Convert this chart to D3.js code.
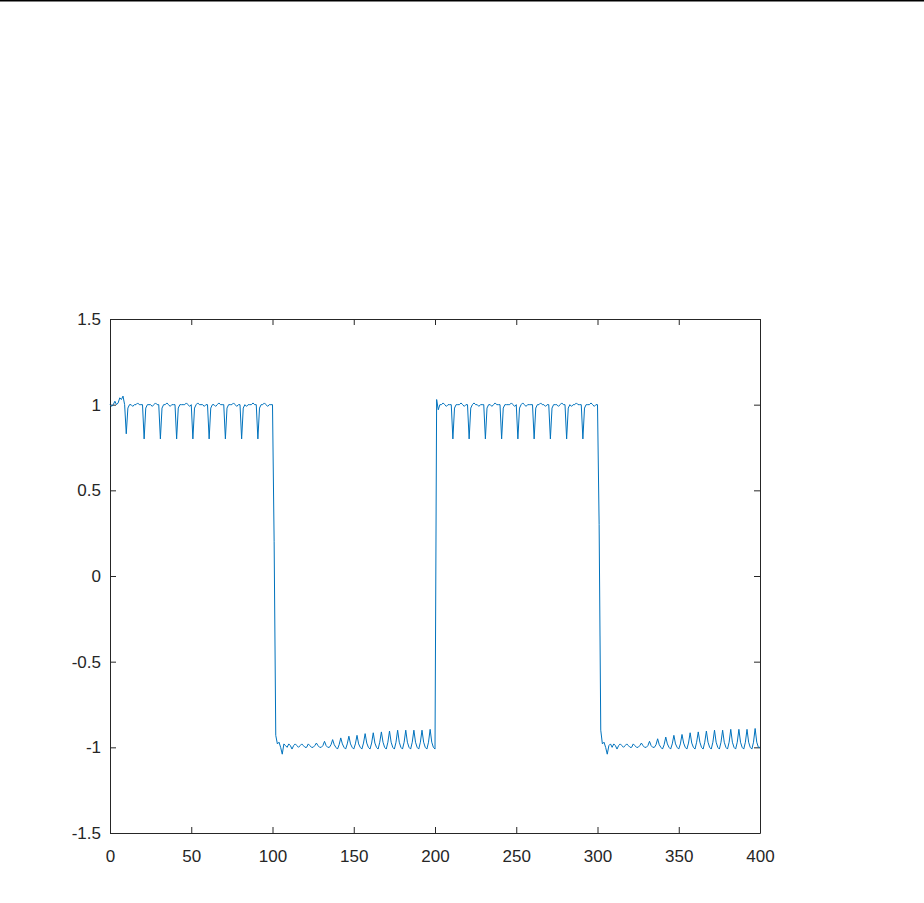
<!DOCTYPE html>
<html>
<head>
<meta charset="utf-8">
<script src="https://cdn.jsdelivr.net/npm/d3@7"></script>
<style>
  body { margin: 0; background: #fff; }
  svg { display: block; }
  .axis text { font-family: "Liberation Sans", Arial, sans-serif; font-size: 17px; fill: #262626; }
  .axis path, .axis line { stroke: #262626; }
</style>
</head>
<body>
<svg width="924" height="903"></svg>
<script>
// signal samples, one per unit step of x
// x = 0..100 (high, with dips every ~10 samples)
var seg1 = [1.00,0.99,1.00,1.02,1.00,1.01,1.04,1.03,1.05,1.00,
  0.83,0.98,1.00,1.00,0.99,1.00,1.00,1.01,1.00,1.00,
  1.00,0.80,0.98,1.00,1.00,1.00,0.99,1.00,1.01,1.00,
  1.00,0.80,0.98,1.00,1.00,1.01,1.00,0.99,1.00,1.00,
  1.00,0.80,0.98,1.00,1.00,1.00,1.00,1.01,1.00,0.99,
  1.00,0.80,0.98,1.00,1.01,1.00,1.00,1.00,0.99,1.00,
  1.00,0.80,0.98,1.00,1.00,0.99,1.00,1.01,1.00,1.00,
  1.00,0.80,0.98,1.00,1.00,1.00,1.01,1.00,0.99,1.00,
  1.00,0.80,0.98,1.00,0.99,1.00,1.00,1.00,1.01,1.00,
  1.00,0.80,0.98,1.00,1.00,1.01,1.00,0.99,1.00,1.00,
  1.00];
// x = 101..200 (low, growing ripple)
var seg2 = [0.20,-0.93,-0.98,-0.97,-1.00,-1.04,-0.98,-0.99,-1.00,-0.98,
  -0.99,-1.01,-0.99,-0.98,-0.99,-1.00,-0.99,-0.98,-0.99,-1.00,
  -1.00,-0.98,-0.99,-1.00,-1.00,-0.99,-0.975,-0.99,-1.00,-1.00,
  -0.99,-0.965,-0.99,-1.00,-1.00,-0.985,-0.955,-0.985,-1.00,-1.01,
  -0.985,-0.945,-0.98,-1.00,-1.01,-0.98,-0.935,-0.98,-1.00,-1.01,
  -0.98,-0.93,-0.98,-1.00,-1.01,-0.975,-0.92,-0.975,-1.00,-1.01,
  -0.975,-0.915,-0.975,-1.00,-1.01,-0.97,-0.91,-0.97,-1.00,-1.01,
  -0.97,-0.905,-0.97,-1.00,-1.01,-0.97,-0.90,-0.97,-1.00,-1.01,
  -0.97,-0.90,-0.97,-1.00,-1.01,-0.97,-0.90,-0.97,-1.00,-1.01,
  -0.97,-0.90,-0.97,-1.00,-1.01,-0.97,-0.895,-0.97,-1.00,-1.01];
// x = 201..300
var seg3 = [1.03,0.97,1.00,1.00,1.01,1.00,0.99,1.00,1.00,1.00,
  0.80,0.98,1.00,1.00,1.00,1.01,1.00,0.99,1.00,1.00,
  0.80,0.98,1.00,1.01,1.00,1.00,0.99,1.00,1.00,1.00,
  0.80,0.98,1.00,1.00,0.99,1.00,1.01,1.00,1.00,1.00,
  0.80,0.98,1.00,1.00,1.00,1.00,1.01,1.00,0.99,1.00,
  0.80,0.98,1.00,1.01,1.00,0.99,1.00,1.00,1.00,1.00,
  0.80,0.98,1.00,1.00,1.01,1.00,1.00,0.99,1.00,1.00,
  0.80,0.98,1.00,1.00,1.00,0.99,1.00,1.01,1.00,1.00,
  0.80,0.98,1.00,0.99,1.00,1.00,1.01,1.00,1.00,1.00,
  0.80,0.98,1.00,1.00,1.00,1.01,1.00,0.99,1.00,1.00];
// x = 301..400
var seg4 = [0.30,-0.90,-0.98,-0.97,-1.00,-1.04,-0.99,-0.98,-1.00,-0.98,
  -0.99,-1.01,-0.99,-0.98,-0.99,-1.00,-0.99,-0.98,-0.99,-1.00,
  -1.00,-0.98,-0.99,-1.00,-1.00,-0.99,-0.975,-0.99,-1.00,-1.00,
  -0.99,-0.965,-0.99,-1.00,-1.00,-0.985,-0.95,-0.985,-1.00,-1.01,
  -0.985,-0.94,-0.98,-1.00,-1.01,-0.98,-0.93,-0.98,-1.00,-1.01,
  -0.98,-0.925,-0.975,-1.00,-1.01,-0.975,-0.915,-0.975,-1.00,-1.01,
  -0.97,-0.91,-0.97,-1.00,-1.01,-0.97,-0.905,-0.97,-1.00,-1.01,
  -0.97,-0.90,-0.97,-1.00,-1.01,-0.97,-0.90,-0.97,-1.00,-1.01,
  -0.97,-0.895,-0.97,-1.00,-1.01,-0.97,-0.895,-0.97,-1.00,-1.01,
  -0.97,-0.895,-0.97,-1.00,-1.01,-0.97,-0.89,-0.97,-1.00,-1.00];

var xTicks = [0, 50, 100, 150, 200, 250, 300, 350, 400];
var yTicks = [-1.5, -1, -0.5, 0, 0.5, 1, 1.5];

var signal = seg1.concat(seg2, seg3, seg4);

var svg = d3.select("svg"),
    plotLeft = 110, plotRight = 760, plotTop = 319, plotBottom = 833;

// thin rule along the top edge of the figure window
svg.append("line")
    .attr("x1", 0).attr("x2", 924)
    .attr("y1", 0.75).attr("y2", 0.75)
    .attr("stroke", "#000").attr("stroke-width", 1.5);

var x = d3.scaleLinear().domain([0, 400]).range([plotLeft, plotRight]);
var y = d3.scaleLinear().domain([-1.5, 1.5]).range([plotBottom, plotTop]);

var fmt = function(d) { return String(d); };

svg.append("g")
    .attr("class", "axis")
    .attr("transform", "translate(0," + plotBottom + ")")
    .call(d3.axisBottom(x).tickValues(xTicks).tickFormat(fmt).tickSize(-6).tickSizeOuter(0).tickPadding(17));

svg.append("g")
    .attr("class", "axis")
    .attr("transform", "translate(0," + plotTop + ")")
    .call(d3.axisTop(x).tickValues(xTicks).tickFormat("").tickSize(-6).tickSizeOuter(0));

svg.append("g")
    .attr("class", "axis")
    .attr("transform", "translate(" + plotLeft + ",0)")
    .call(d3.axisLeft(y).tickValues(yTicks).tickFormat(fmt).tickSize(-6).tickSizeOuter(0).tickPadding(9));

svg.append("g")
    .attr("class", "axis")
    .attr("transform", "translate(" + plotRight + ",0)")
    .call(d3.axisRight(y).tickValues(yTicks).tickFormat("").tickSize(-6).tickSizeOuter(0));

var line = d3.line()
    .x(function(d, i) { return x(i); })
    .y(function(d) { return y(d); });

svg.append("path")
    .datum(signal)
    .attr("fill", "none")
    .attr("stroke", "#0072BD")
    .attr("stroke-width", 1)
    .attr("stroke-linejoin", "round")
    .attr("d", line);
</script>
</body>
</html>
